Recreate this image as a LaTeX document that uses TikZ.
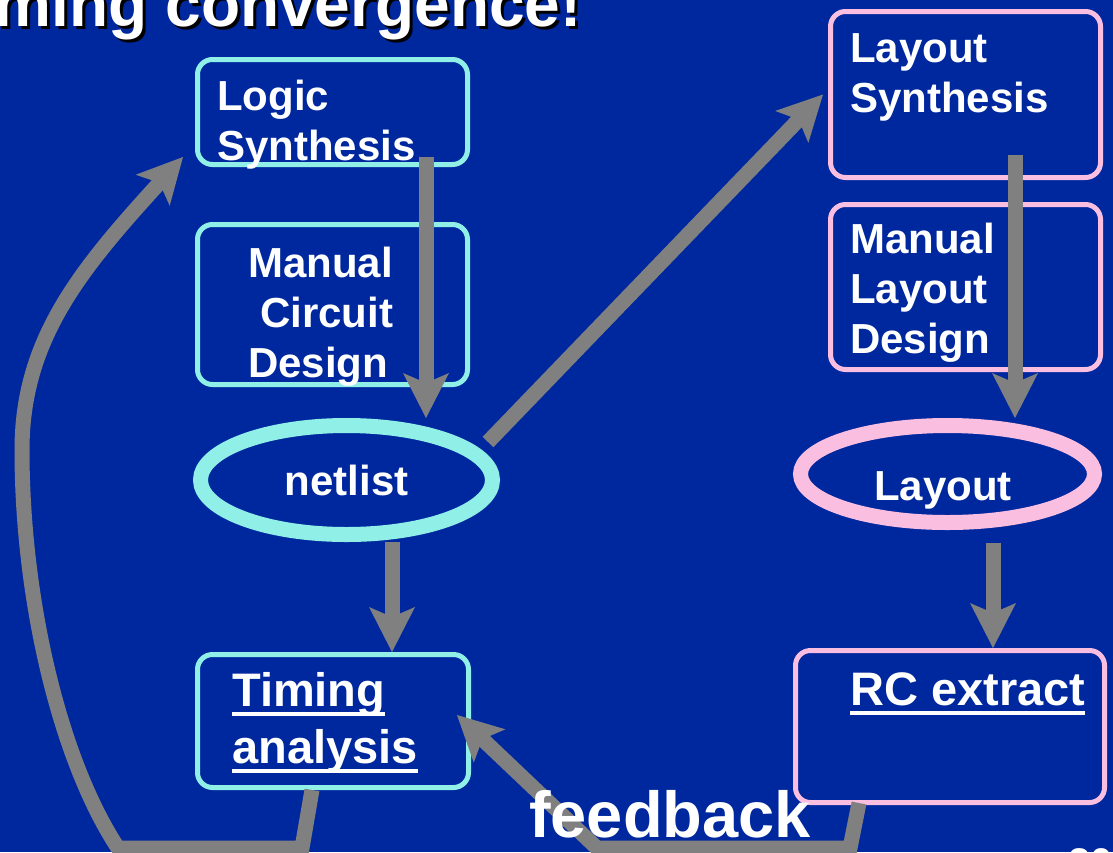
\documentclass[tikz,border=0pt]{standalone}
\usepackage{fontspec}
\setmainfont{Liberation Sans}
\usetikzlibrary{shapes.geometric,arrows.meta,calc}
\definecolor{slideblue}{RGB}{0,40,158}
\definecolor{netcyan}{RGB}{144,240,232}
\definecolor{laypink}{RGB}{250,190,225}
\definecolor{arrgray}{RGB}{128,128,128}
\newcommand\undl[1]{\setbox0\hbox{#1}\rlap{\rule[-10pt]{\wd0}{4pt}}\box0}

\begin{document}
\begin{tikzpicture}[x=1pt,y=-1pt,
  cbox/.style={draw=netcyan,line width=5pt,rounded corners=15pt,fill=slideblue,inner sep=0pt},
  pbox/.style={cbox,draw=laypink},
  oval/.style={ellipse,line width=15pt,fill=slideblue,inner sep=0pt},
  txt/.style={text=white,font=\fontsize{42}{50}\selectfont\bfseries,align=left,inner sep=0pt},
  bigtxt/.style={txt,font=\fontsize{47}{57}\selectfont\bfseries},
  arr/.style={draw=arrgray,line width=15pt,-{Stealth[length=45pt,width=46pt,inset=10pt,line width=0pt]}}]
\fill[slideblue] (0,0) rectangle (1113,852);
\useasboundingbox (0,0) rectangle (1113,852);

\node[anchor=base east,text=black,font=\fontsize{64}{70}\selectfont\bfseries,inner sep=0pt] (titleshadow) at (585,29) {ming convergence!};
\node[anchor=base east,text=white,font=\fontsize{64}{70}\selectfont\bfseries,inner sep=0pt] (title) at (582,26) {ming convergence!};

% left column
\node[cbox,minimum width=270pt,minimum height=105pt] (logic) at (332.5,112) {};
\node[cbox,minimum width=270pt,minimum height=160pt] (mcirc) at (332.5,304.5) {};
\node[oval,draw=netcyan,minimum width=292pt,minimum height=109pt,txt] (netlist) at (346.5,480) {netlist};
\node[cbox,minimum width=271pt,minimum height=133pt] (timing) at (333,721) {};

% right column
\node[pbox,minimum width=270pt,minimum height=166pt] (lsyn) at (965.5,94.5) {};
\node[pbox,minimum width=270pt,minimum height=165pt] (mlay) at (965.5,287) {};
\node[oval,draw=laypink,minimum width=294pt,minimum height=97pt] (lay) at (947.5,474) {};
\node[pbox,minimum width=309pt,minimum height=152pt] (rc) at (950,726.5) {};

\draw[arr] ($(logic.south)+(93.5,-10)$) -- (426,0 |- netlist.north);
\draw[arr] ([shift={(-12,-38)}]netlist.east) -- ([xshift=-5pt]lsyn.west);
\draw[arr] ($(lsyn.south)+(49.5,-25)$) -- (1015,0 |- lay.north);
\draw[arr] (392,0 |- netlist.south) -- (392,0 |- timing.north);
\draw[arr] ($(993,0 |- lay.south)+(0,13)$) -- (993,0 |- rc.north);
\draw[arr] ($(rc.south)+(-91,-2)$) -- (850,848) -- (597,848) -- ([shift={(-14,-6)}]timing.east);
\draw[arr] ($(timing.south)+(-21,0)$) -- (302,848) -- (118,848)
  .. controls (60,760) and (22,600) .. (22,450)
  .. controls (22,340) and (80,270) .. ([shift={(-12,-10)}]logic.south west);

\node[txt,anchor=base west] (logict) at (217,160) {Logic\\Synthesis};
\node[txt,anchor=base west] (mcirct) at (248,377) {Manual\\\hspace*{12pt}Circuit\\Design};
\node[bigtxt,anchor=base west] (timingt) at (232,763) {\undl{Timing}\\\undl{analysis}};
\node[txt,anchor=base west] (lsynt) at (850,112) {Layout\\Synthesis};
\node[txt,anchor=base west] (mlayt) at (850,353) {Manual\\Layout\\Design};
\node[txt,anchor=base] (layt) at (943,500) {Layout};
\node[bigtxt,anchor=base west] (rct) at (850,705) {\undl{RC extract}};
\node[anchor=base west,text=white,font=\fontsize{65}{70}\selectfont\bfseries,inner sep=0pt] (fb) at (529,837) {feedback};
\node[anchor=base west,text=white,font=\fontsize{40}{44}\selectfont\bfseries,inner sep=0pt] (pgnum) at (1068,876) {20};
\end{tikzpicture}
\end{document}
